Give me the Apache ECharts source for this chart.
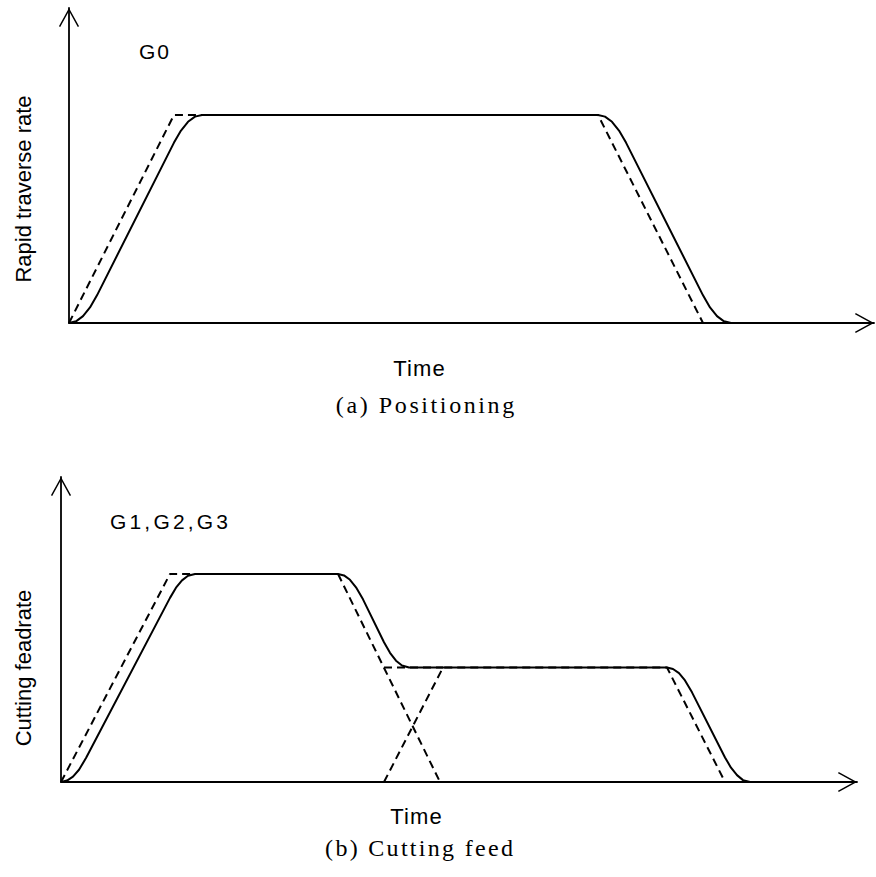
<!DOCTYPE html>
<html>
<head>
<meta charset="utf-8">
<script src="https://cdn.jsdelivr.net/npm/echarts@6/dist/echarts.min.js"></script>
<style>
html,body{margin:0;padding:0;background:#fff;}
#chart{width:876px;height:877px;}
</style>
</head>
<body>
<div id="chart"></div>
<script>
// ---- Data ----
// (a) Positioning: x = time units, y = rate (% of rapid traverse rate)
const posCommandX = [0, 105, 529, 634];
const posCommandY = [0, 100, 100, 0];
const posActualX = [0, 7, 14, 21, 28, 105, 112, 119, 126, 133, 529, 536, 543, 550, 557, 634, 641, 648, 655, 662];
const posActualY = [0, 0.8, 3.3, 7.5, 13.3, 86.7, 92.5, 96.7, 99.2, 100, 100, 99.2, 96.7, 92.5, 86.7, 13.3, 7.5, 3.3, 0.8, 0];

// (b) Cutting feed
const cutBlock1X = [0, 109, 277, 379];
const cutBlock1Y = [0, 100, 100, 0];
const cutBlock2X = [323, 382, 606, 664];
const cutBlock2Y = [0, 55, 55, 0];
const cutLevel2X = [323, 382];
const cutLevel2Y = [55, 55];
const cutActualX = [0, 6, 12, 18, 25, 109, 115, 121, 127, 134, 277, 283, 289, 295, 302, 323, 329, 335, 341, 348, 606, 612, 618, 624, 631, 664, 670, 676, 682, 689];
const cutActualY = [0, 0.7, 2.6, 5.9, 11.5, 88.5, 93.4, 96.9, 99.1, 100, 100, 99.3, 97.2, 93.6, 87.8, 67.2, 62.1, 58.3, 56.0, 55, 55, 54.3, 52.3, 48.8, 43.1, 11.8, 6.9, 3.3, 0.9, 0];

// Text
const topTag = 'G0', topYName = 'Rapid traverse rate', topXName = 'Time', topCaption = '(a) Positioning';
const botTag = 'G1,G2,G3', botYName = 'Cutting feadrate', botXName = 'Time', botCaption = '(b) Cutting feed';

function pairs(xs, ys) { return xs.map((x, i) => [x, ys[i]]); }

const SANS = "'Liberation Sans', Arial, Helvetica, sans-serif";
const SERIF = "'Liberation Serif', 'Times New Roman', serif";
const ARROW = 'path://M11,0 L22,20 L20.6,20.77 L11,3.32 L1.4,20.77 L0,20 Z';

function axis(extra) {
  return Object.assign({
    type: 'value',
    axisLine: { show: true, onZero: false, lineStyle: { color: '#000', width: 1.8 },
      symbol: ['none', ARROW], symbolSize: [22, 19], symbolOffset: [0, -9.5] },
    axisTick: { show: false },
    axisLabel: { show: false },
    splitLine: { show: false }
  }, extra);
}

const dashStyle = { color: '#000', width: 2, type: [8, 5] };
const solidStyle = { color: '#000', width: 2 };

function lineSeries(name, data, xi, style, z) {
  return { name, type: 'line', xAxisIndex: xi, yAxisIndex: xi, data, showSymbol: false,
    symbol: 'none', lineStyle: style, z, silent: true };
}

// letter spacing per text (px)
const spacing = {};
spacing[topTag] = 2; spacing[botTag] = 3.2; spacing['Time'] = 1.2;
spacing[topCaption] = 2.6; spacing[botCaption] = 2.3;

function label(text, x, y, font, rot) {
  const sp = spacing[text] || 0;
  const el = { type: 'text', x: x + sp / 2, y, silent: true,
    style: { text, font, fill: '#000', textAlign: 'center', textVerticalAlign: 'middle' } };
  if (rot) el.rotation = rot;
  return el;
}

const chart = echarts.init(document.getElementById('chart'), null, { renderer: 'svg' });
chart.setOption({
  animation: false,
  backgroundColor: '#fff',
  grid: [
    { left: 69, top: 8, width: 805, height: 315 },
    { left: 61, top: 477, width: 796, height: 305 }
  ],
  xAxis: [axis({ gridIndex: 0, min: 0, max: 805 }), axis({ gridIndex: 1, min: 0, max: 796 })],
  yAxis: [axis({ gridIndex: 0, min: 0, max: 151.4 }), axis({ gridIndex: 1, min: 0, max: 146.6 })],
  series: [
    lineSeries('command', pairs(posCommandX, posCommandY), 0, dashStyle, 2),
    lineSeries('actual', pairs(posActualX, posActualY), 0, solidStyle, 3),
    lineSeries('block1', pairs(cutBlock1X, cutBlock1Y), 1, dashStyle, 2),
    lineSeries('block2', pairs(cutBlock2X, cutBlock2Y), 1, dashStyle, 2),
    lineSeries('level2', pairs(cutLevel2X, cutLevel2Y), 1, dashStyle, 2),
    lineSeries('actual2', pairs(cutActualX, cutActualY), 1, solidStyle, 3)
  ],
  graphic: [
    label(topTag, 154, 51, '21px ' + SANS),
    label(topYName, 23, 189, '22px ' + SANS, Math.PI / 2),
    label(topXName, 419, 368, '22px ' + SANS),
    label(topCaption, 425, 405, '24px ' + SERIF),
    label(botTag, 169, 521, '21px ' + SANS),
    label(botYName, 23, 668, '22px ' + SANS, Math.PI / 2),
    label(botXName, 416, 816, '22px ' + SANS),
    label(botCaption, 419, 848, '24px ' + SERIF)
  ]
});

// apply letter spacing to the SVG text nodes
document.querySelectorAll('#chart text').forEach(function (t) {
  const sp = spacing[t.textContent];
  if (sp) t.style.letterSpacing = sp + 'px';
});
</script>
</body>
</html>
